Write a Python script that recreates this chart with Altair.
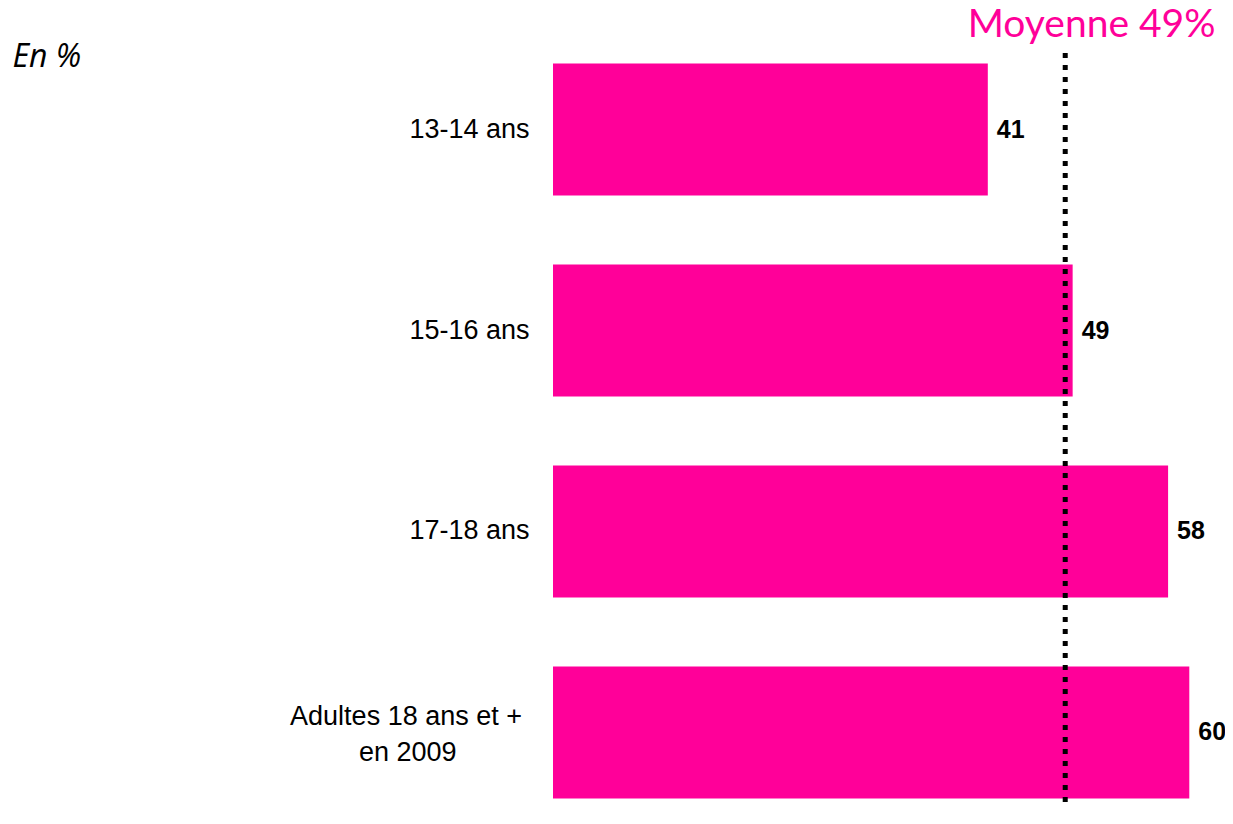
import altair as alt
import pandas as pd

NB = "\u00a0"   # non-breaking space (used only to shift a label line)
TS = "\u2009"   # thin space
ZW = "\u200b"   # zero-width anchor so the padding is not trimmed

# Data
categories = ["13-14 ans", "15-16 ans", "17-18 ans",
              "Adultes 18 ans et +" + NB + ZW + "|en 2009" + NB * 9 + TS + ZW]
values = [41, 49, 58, 60]
mean_value = [48.3]
mean_label = "Moyenne 49%"
unit_label = "En %"

PINK = "#ff0099"

df = pd.DataFrame({"label": categories, "value": values})
df_mean = pd.DataFrame({"value": mean_value})

W = 672
xscale = alt.Scale(domain=[0, W / 10.605], nice=False, zero=True)
xaxis = alt.Axis(
    orient="top", labels=False, ticks=False, domain=False, grid=False,
    title=mean_label, titleColor=PINK, titleFont="Lato", titleFontSize=39,
    titleFontWeight="normal", titleX=662, titleY=-17, titleAlign="right",
    titleBaseline="alphabetic", titleAngle=0, titleAnchor="end",
)
yscale = alt.Scale(paddingInner=0.344, paddingOuter=0.0526, align=0.5)
yaxis = alt.Axis(
    title=unit_label, titleFont="Open Sans", titleFontStyle="italic",
    titleFontSize=32, titleFontWeight="normal", titleColor="#000000",
    titleAngle=0, titleAlign="left", titleBaseline="alphabetic",
    titleX=-541, titleY=13,
    labels=True, ticks=False, domain=False, grid=False,
    labelFont="Liberation Sans", labelFontSize=27, labelColor="#000000",
    labelPadding=24, labelLimit=0, labelLineHeight=36,
    labelExpr="split(datum.label, '|')",
    labelOffset={"condition": {"test": "indexof(datum.value, '|') >= 0", "value": -15},
                 "value": 0},
)

x_enc = alt.X("value:Q", scale=xscale, axis=xaxis)
y_enc = alt.Y("label:N", sort=categories, scale=yscale, axis=yaxis)

bars = alt.Chart(df).mark_bar(color=PINK).encode(x=x_enc, y=y_enc)

texts = alt.Chart(df).mark_text(
    align="left", baseline="middle", dx=9, font="Liberation Sans",
    fontSize=25, fontWeight="bold", color="#000000",
).encode(x=x_enc, y=y_enc, text=alt.Text("value:Q"))

rule = alt.Chart(df_mean).mark_rule(
    color="#000000", strokeWidth=5, strokeDash=[5, 7], strokeCap="butt",
).encode(x=x_enc)

chart = alt.layer(bars, texts, rule).properties(
    width=W, height=756,
    autosize=alt.AutoSizeParams(type="none"),
    padding={"left": 545, "top": 45, "right": 0, "bottom": 0},
    background="#ffffff",
).configure_view(stroke=None)

chart.save("out.html", embed_options={"renderer": "svg", "actions": False})
